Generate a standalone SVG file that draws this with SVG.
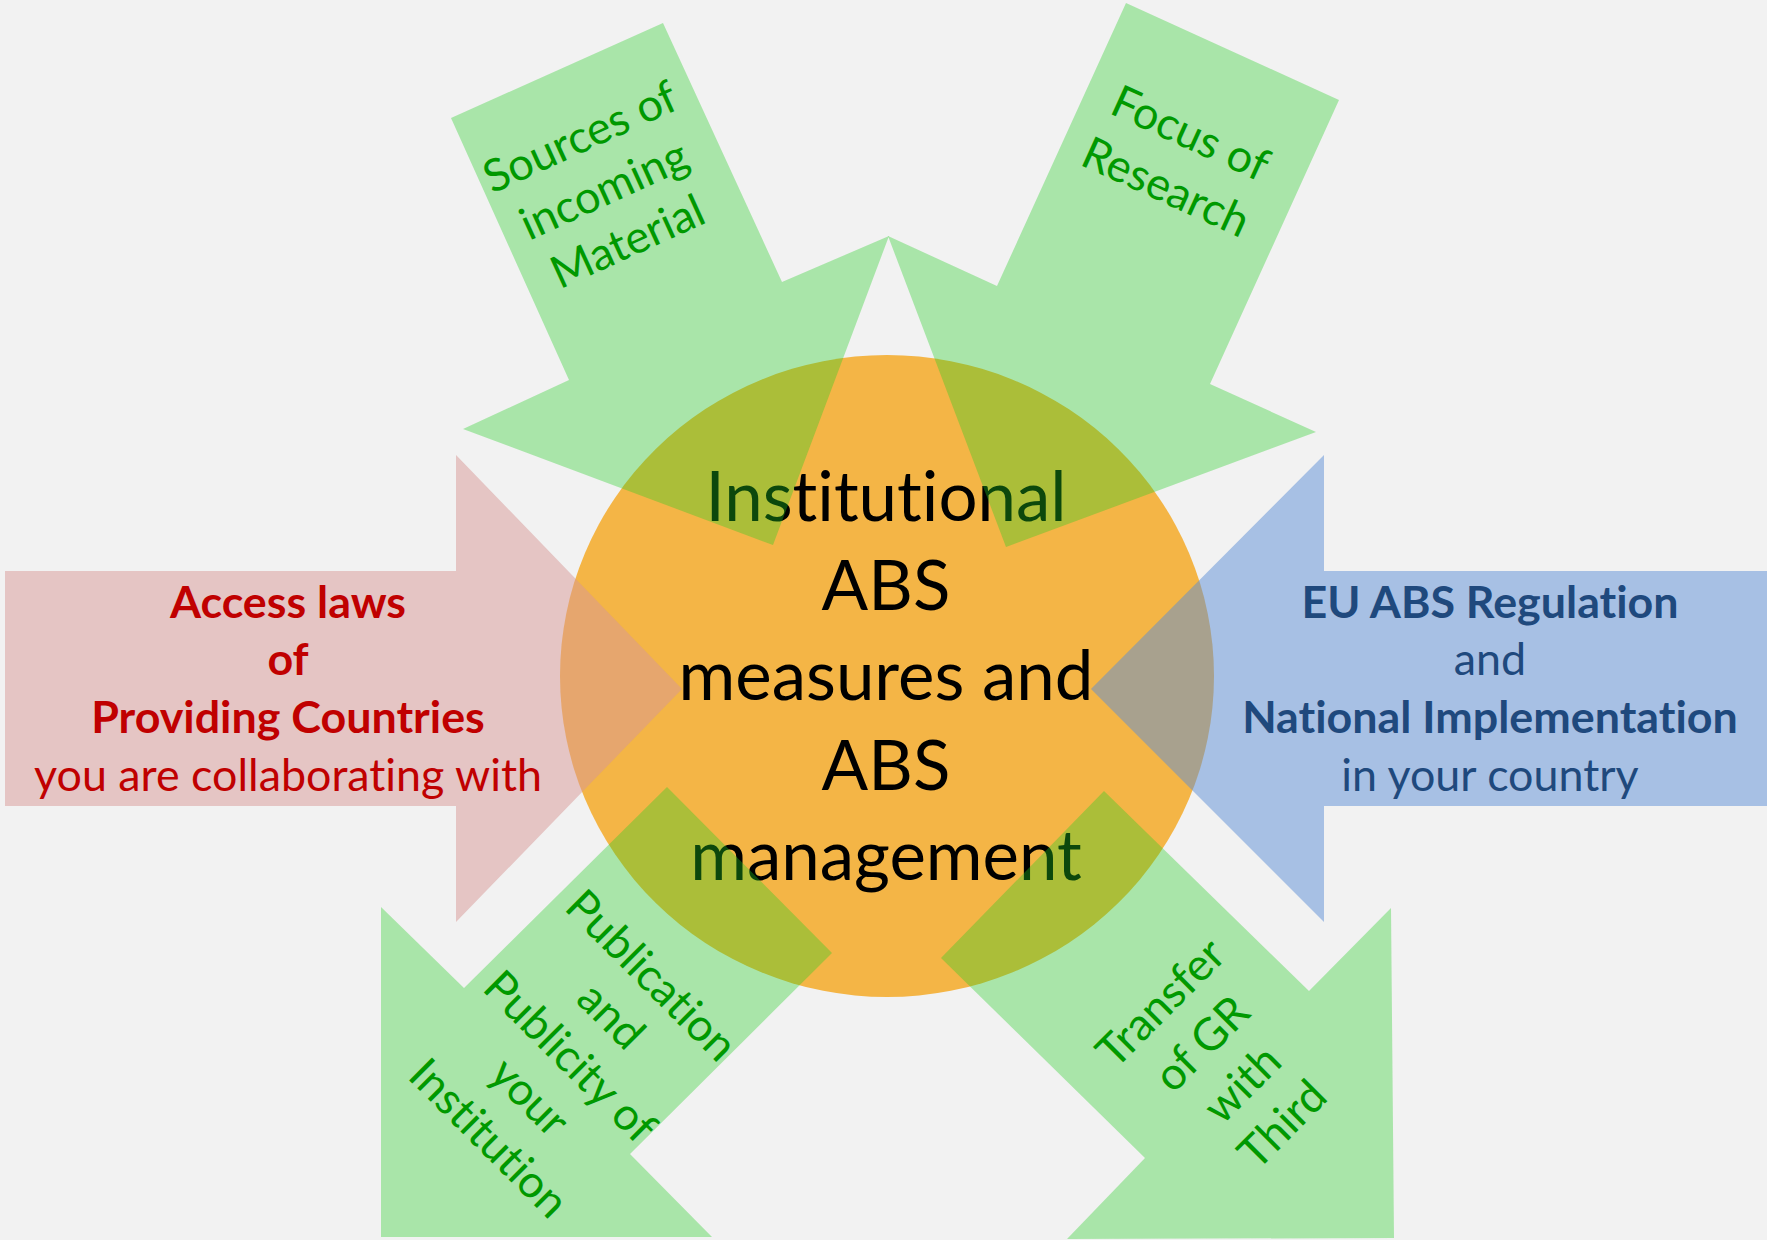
<svg xmlns="http://www.w3.org/2000/svg" width="1767" height="1240" viewBox="0 0 1767 1240">
  <style>
    .bg { fill: #F2F2F2; }
    .hub { fill: #F4B546; }
    text { font-family: Lato, "Liberation Sans", sans-serif; font-variant-ligatures: none; font-feature-settings: "liga" 0, "clig" 0, "dlig" 0, "calt" 0; text-anchor: middle; }
    .hub-text { font-size: 69px; fill: #000000; }
    .green { fill: rgb(33,205,33); fill-opacity: 0.35; }
    .red { fill: rgb(216,152,150); fill-opacity: 0.5; }
    .blue { fill: rgb(92,142,214); fill-opacity: 0.5; }
    .green-text { font-size: 45px; fill: #009900; }
    .side-text { font-size: 44.8px; }
    .red-text { fill: #C00000; }
    .blue-text { fill: #1F497D; }
    .b { font-weight: bold; }
  </style>

  <rect class="bg" x="0" y="0" width="1767" height="1240"/>

  <!-- central hub -->
  <g id="hub">
    <ellipse class="hub" cx="887" cy="676" rx="327" ry="321"/>
    <text class="hub-text" x="886" y="521">Institutional</text>
    <text class="hub-text" x="886" y="610">ABS</text>
    <text class="hub-text" x="886" y="700">measures and</text>
    <text class="hub-text" x="886" y="790">ABS</text>
    <text class="hub-text" x="886" y="880">management</text>
  </g>

  <!-- incoming arrows -->
  <g id="arrow-sources">
    <polygon class="green" points="663,23 782,282 889,236 773,545 463,429 569,380 451,118"/>
    <g transform="translate(605,192) rotate(-24.5)">
      <text class="green-text" x="0" y="-45">Sources of</text>
      <text class="green-text" x="0" y="13">incoming</text>
      <text class="green-text" x="0" y="70">Material</text>
    </g>
  </g>

  <g id="arrow-focus">
    <polygon class="green" points="1126,3 1339,100 1210,384 1316,432 1006,547 888,236 997,286"/>
    <g transform="translate(1177,163) rotate(24.5)">
      <text class="green-text" x="0" y="-17">Focus of</text>
      <text class="green-text" x="0" y="42">Research</text>
    </g>
  </g>

  <g id="arrow-access">
    <polygon class="red" points="5,571 456,571 456,455 682,689 456,922 456,806 5,806"/>
    <text class="side-text red-text b" x="288" y="618">Access laws</text>
    <text class="side-text red-text b" x="288" y="675">of</text>
    <text class="side-text red-text b" x="288" y="733">Providing Countries</text>
    <text class="side-text red-text" x="288" y="791">you are collaborating with</text>
  </g>

  <g id="arrow-eu">
    <polygon class="blue" points="1800,571 1324,571 1324,455 1091,689 1324,922 1324,806 1800,806"/>
    <text class="side-text blue-text b" x="1490" y="618">EU ABS Regulation</text>
    <text class="side-text blue-text" x="1490" y="675">and</text>
    <text class="side-text blue-text b" x="1490" y="733">National Implementation</text>
    <text class="side-text blue-text" x="1490" y="791">in your country</text>
  </g>

  <!-- outgoing arrows -->
  <g id="arrow-publication">
    <polygon class="green" points="667,787 832,953 630,1154 712,1237 381,1237 381,907 464,988"/>
    <g transform="translate(572,1055) rotate(45)">
      <text class="green-text" x="0" y="-97">Publication</text>
      <text class="green-text" x="0" y="-40">and</text>
      <text class="green-text" x="0" y="18">Publicity of</text>
      <text class="green-text" x="0" y="75">your</text>
      <text class="green-text" x="0" y="133">Institution</text>
    </g>
  </g>

  <g id="arrow-transfer">
    <polygon class="green" points="1104,791 1309,991 1391,908 1394,1238 1067,1239 1145,1158 941,958"/>
    <g transform="translate(1224,1066) rotate(-45)">
      <text class="green-text" x="0" y="-74">Transfer</text>
      <text class="green-text" x="0" y="-16">of GR</text>
      <text class="green-text" x="0" y="41">with</text>
      <text class="green-text" x="0" y="98">Third</text>
    </g>
  </g>
</svg>
